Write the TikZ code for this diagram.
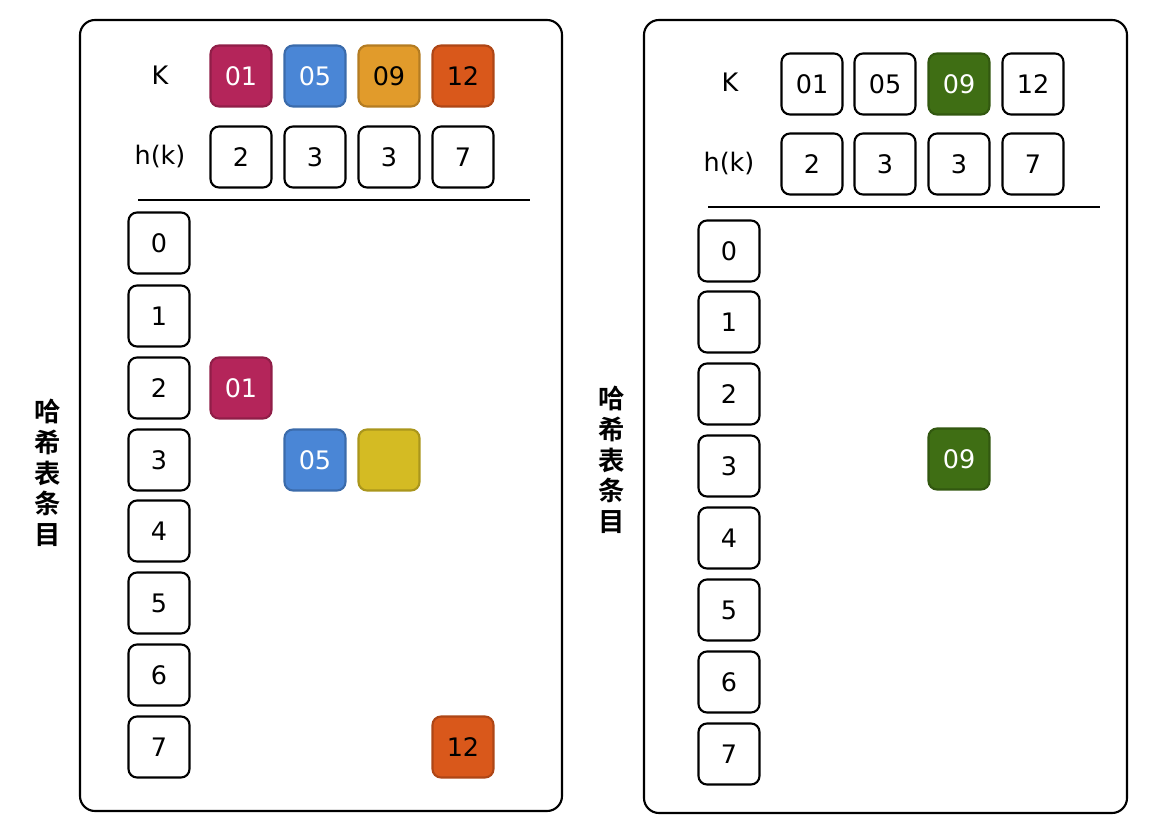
\documentclass[tikz,border=0pt]{standalone}
\usepackage{fontspec}
\setmainfont{DejaVu Sans}
\newfontfamily\cjk{Noto Sans CJK SC}[BoldFont={* Bold}]
\definecolor{cA}{HTML}{B4255A}
\definecolor{cB}{HTML}{4A86D6}
\definecolor{cC}{HTML}{E19B2B}
\definecolor{cD}{HTML}{D9581B}
\definecolor{cY}{HTML}{D4BB23}
\definecolor{cG}{HTML}{3F6E14}
\tikzset{
  cell/.style={draw=black, line width=1.2pt, rounded corners=0.17cm, minimum width=1.22cm, minimum height=1.22cm, inner sep=0pt, font=\fontsize{14.5}{15}\selectfont, fill=white},
  filled/.style={cell, fill=#1, draw=#1!80!black},
  panel/.style={draw=black, line width=1.2pt, rounded corners=0.3cm},
  lbl/.style={font=\fontsize{14.5}{15}\selectfont},
  side/.style={font=\cjk\bfseries\fontsize{15}{16}\selectfont, align=center, inner sep=0pt}
}
\begin{document}
\begin{tikzpicture}[x=0.02cm,y=-0.02cm]
\useasboundingbox (0,0) rectangle (1160,824);
% ---------------- left panel ----------------
\draw[panel] (80,20) rectangle (562,811);
\node[lbl] (lK) at (160,75) {K};
\node[lbl] (lH) at (160,157) {h(k)};
\node[filled=cA, text=white] (lk1) at (241,76) {01};
\node[filled=cB, text=white] (lk2) at (315,76) {05};
\node[filled=cC] (lk3) at (389,76) {09};
\node[filled=cD] (lk4) at (463,76) {12};
\node[cell] (lh1) at (241,157) {2};
\node[cell] (lh2) at (315,157) {3};
\node[cell] (lh3) at (389,157) {3};
\node[cell] (lh4) at (463,157) {7};
\coordinate (lL1) at (138,200);
\coordinate (lL2) at (530,200);
\draw[line width=1.2pt] (lL1) -- (lL2);
\foreach \i/\y in {0/243,1/316,2/388,3/460,4/531,5/603,6/675,7/747}
  \node[cell] (li\i) at (159,\y) {\i};
\node[filled=cA, text=white] (le1) at (241,388) {01};
\node[filled=cB, text=white] (le2) at (315,460) {05};
\node[filled=cY] (le3) at (389,460) {};
\node[filled=cD] (le4) at (463,747) {12};
\node[side] (lside) at (48,473) {哈\\[1.5pt]希\\[1.5pt]表\\[1.5pt]条\\[1.5pt]目};
% ---------------- right panel ----------------
\draw[panel] (644,20) rectangle (1127,813);
\node[lbl] (rK) at (730,82) {K};
\node[lbl] (rH) at (729,164) {h(k)};
\node[cell] (rk1) at (812,84) {01};
\node[cell] (rk2) at (885,84) {05};
\node[filled=cG, text=white] (rk3) at (959,84) {09};
\node[cell] (rk4) at (1033,84) {12};
\node[cell] (rh1) at (812,164) {2};
\node[cell] (rh2) at (885,164) {3};
\node[cell] (rh3) at (959,164) {3};
\node[cell] (rh4) at (1033,164) {7};
\coordinate (rL1) at (708,207);
\coordinate (rL2) at (1100,207);
\draw[line width=1.2pt] (rL1) -- (rL2);
\foreach \i/\y in {0/251,1/322,2/394,3/466,4/538,5/610,6/682,7/754}
  \node[cell] (ri\i) at (729,\y) {\i};
\node[filled=cG, text=white] (re1) at (959,459) {09};
\node[side] (rside) at (612,460) {哈\\[1.5pt]希\\[1.5pt]表\\[1.5pt]条\\[1.5pt]目};
\end{tikzpicture}
\end{document}
